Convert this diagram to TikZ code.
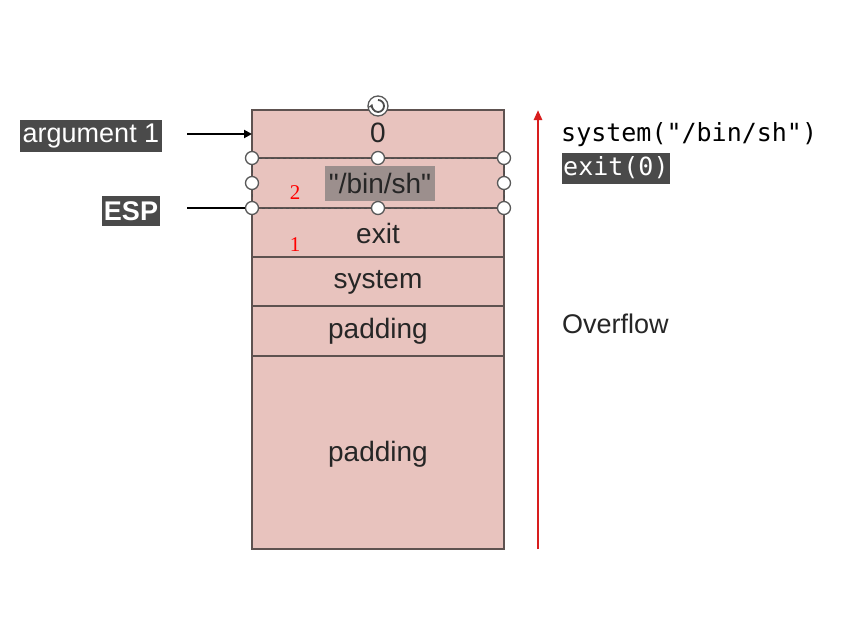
\documentclass[tikz,border=0pt]{standalone}
\usepackage{fontspec}
\setmainfont{Liberation Sans}
\newfontfamily\plainsans{Liberation Sans}
\setmonofont{DejaVu Sans Mono}
\newfontfamily\serifnum{Liberation Serif}
\usetikzlibrary{arrows.meta}
\definecolor{stackfill}{HTML}{E8C3BE}
\definecolor{stackline}{HTML}{5E5250}
\definecolor{labelbg}{HTML}{4A4A4A}
\definecolor{hlgray}{HTML}{9C8F8D}
\definecolor{redarrow}{HTML}{D81E1E}
\begin{document}
\begin{tikzpicture}[x=1pt,y=-1pt,
  cell/.style={draw=stackline,line width=1.4pt,fill=stackfill},
  celltext/.style={font=\fontsize{28}{30}\selectfont,text=black!85},
  darklabel/.style={fill=labelbg,text=white,inner sep=2pt,font=\fontsize{27}{30}\selectfont},
  handle/.style={circle,draw=gray!70!black,fill=white,line width=1.3pt,minimum size=13pt,inner sep=0pt},
  rednum/.style={text=red,font=\serifnum\fontsize{21}{23}\selectfont},
  pointer/.style={line width=2.4pt,draw=black}
]
\useasboundingbox (0,0) rectangle (862,629);
\fill[white] (0,0) rectangle (862,629);
% stack cells
\draw[cell] (252,110) rectangle (504,158);
\draw[cell] (252,158) rectangle (504,208);
\draw[cell] (252,208) rectangle (504,257);
\draw[cell] (252,257) rectangle (504,306);
\draw[cell] (252,306) rectangle (504,356);
\draw[cell] (252,356) rectangle (504,549);
% selection outline
\draw[gray!60!black,dashed,line width=1pt] (252,158) rectangle (504,208);
% texts
\node[celltext] (c0) at (378,133) {0};
\node[celltext,font=\plainsans\fontsize{28}{30}\selectfont,fill=hlgray,inner sep=3pt,minimum width=110pt,minimum height=35pt] (cbin) at (380,183) {"/bin/sh"};
\node[celltext] (cexit) at (378,233) {exit};
\node[celltext] (csys) at (378,282) {system};
\node[celltext] (cpad1) at (378,331) {padding};
\node[celltext] (cpad2) at (378,454) {padding};
% red numbers
\node[rednum] (n2) at (295,193) {2};
\node[rednum] (n1) at (295,245) {1};
% labels and pointers
\node[darklabel,minimum width=142pt,minimum height=32pt] (arg) at (91,136) {argument 1};
\node[darklabel,font=\bfseries\fontsize{27}{30}\selectfont,minimum width=57pt,minimum height=30pt] (esp) at (131,211) {ESP};
\coordinate (argend) at (252,134);
\coordinate (argstart) at (187,134);
\coordinate (espstart) at (187,208);
\draw[pointer,-{Triangle[length=8pt,width=8pt]}] (argstart) -- (argend);
% handles
\node[handle] (h1) at (252,158) {};
\node[handle] (h2) at (378,158) {};
\node[handle] (h3) at (504,158) {};
\node[handle] (h4) at (252,183) {};
\node[handle] (h5) at (504,183) {};
\node[handle] (h6) at (252,208) {};
\node[handle] (h7) at (378,208) {};
\node[handle] (h8) at (504,208) {};
\draw[pointer] (espstart) -- (h6);
% rotation handle
\node[circle,draw=gray!70!black,fill=white,line width=1.3pt,minimum size=20pt,inner sep=0pt] (rot) at (378,106) {};
\draw[gray!60!black,line width=1.8pt,-{Stealth[length=5pt,width=6pt]}] (378,100) arc[start angle=90,end angle=-200,radius=6pt];
% red arrow
\coordinate (rbot) at (538,549);
\coordinate (rtop) at (538,110);
\draw[redarrow,line width=2.6pt,-{Triangle[length=10pt,width=8pt]}] (rbot) -- (rtop);
% right texts
\node[anchor=west,font=\ttfamily\fontsize{25}{28}\selectfont,inner sep=0pt] (sys) at (561,135) {system("/bin/sh")};
\node[anchor=west,fill=labelbg,text=white,font=\ttfamily\fontsize{25}{28}\selectfont,inner sep=1pt,minimum height=31pt] (ex) at (562,168) {exit(0)};
\node[anchor=west,font=\fontsize{27}{30}\selectfont,inner sep=0pt,text=black!85] (ovf) at (562,324) {Overflow};
\end{tikzpicture}
\end{document}
